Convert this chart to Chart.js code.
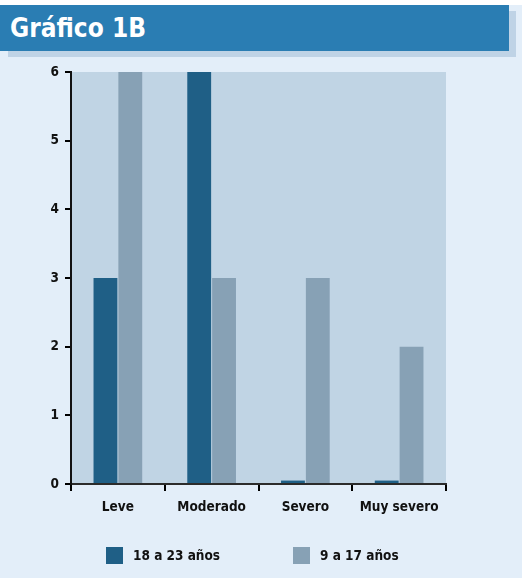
<!DOCTYPE html>
<html>
<head>
<meta charset="utf-8">
<script src="https://cdn.jsdelivr.net/npm/chart.js@4/dist/chart.umd.min.js"></script>
<style>
  html, body { margin: 0; padding: 0; }
  body {
    width: 522px; height: 578px; overflow: hidden; position: relative;
    background: #e3eef9;
    font-family: "DejaVu Sans Condensed", "DejaVu Sans", sans-serif;
  }
  .top-strip { position: absolute; left: 0; top: 0; width: 522px; height: 5px; background: #ffffff; }
  .title-shadow { position: absolute; left: 8px; top: 11px; width: 508px; height: 46px; background: #bfd3e6; }
  .title-bar {
    position: absolute; left: 0; top: 5px; width: 509px; height: 46px; background: #2a7db3;
    color: #ffffff; font-weight: bold; font-size: 26px; line-height: 46px; padding-left: 10px; box-sizing: border-box;
  }
  #chart { position: absolute; left: 0; top: 0; }
  .legend { position: absolute; top: 547px; left: 0; width: 522px; height: 20px; }
  .legend-item { position: absolute; top: 0; font-weight: bold; font-size: 13.5px; color: #111; line-height: 17px; white-space: nowrap; }
  .legend-item span.box { display: inline-block; width: 17px; height: 17px; vertical-align: top; margin-right: 10px; }
</style>
</head>
<body>
<div class="top-strip"></div>
<div class="title-shadow"></div>
<div class="title-bar">Gráfico 1B</div>
<canvas id="chart" width="522" height="578"></canvas>
<div class="legend" id="legend"></div>

<script>
// Categorías y valores por grupo de edad
const categories = ['Leve', 'Moderado', 'Severo', 'Muy severo'];
const seriesNames = ['18 a 23 años', '9 a 17 años'];
const values18a23 = [3, 6, 0.05, 0.05];
const values9a17 = [6, 3, 3, 2];
const yTicks = [0, 1, 2, 3, 4, 5, 6];

const colors = ['#1f5f86', '#87a1b5'];
const legendLeft = [106, 293];

// fondo del área de trazado
const plotBackground = {
    id: 'plotBackground',
    beforeDraw(chart) {
        const { ctx, chartArea } = chart;
        ctx.save();
        ctx.fillStyle = '#c0d4e4';
        ctx.fillRect(chartArea.left, chartArea.top, chartArea.right - chartArea.left, chartArea.bottom - chartArea.top);
        ctx.restore();
    }
};

const tickFont = { family: '"DejaVu Sans Condensed", "DejaVu Sans", sans-serif', size: 13.5, weight: 'bold' };

const chart = new Chart(document.getElementById('chart'), {
    type: 'bar',
    data: {
        labels: categories,
        datasets: [
            { label: seriesNames[0], data: values18a23, backgroundColor: colors[0], borderWidth: 0,
              categoryPercentage: 0.53, barPercentage: 0.96 },
            { label: seriesNames[1], data: values9a17, backgroundColor: colors[1], borderWidth: 0,
              categoryPercentage: 0.53, barPercentage: 0.96 }
        ]
    },
    plugins: [plotBackground],
    options: {
        responsive: false,
        animation: false,
        layout: { padding: { top: 72, right: 76, bottom: 0, left: 0 } },
        plugins: { legend: { display: false }, tooltip: { enabled: false } },
        scales: {
            x: {
                afterFit(scale) { scale.height = 94; },
                border: { display: true, color: '#2b2b2b', width: 2 },
                grid: { offset: true, drawOnChartArea: false, color: '#000', lineWidth: 2, tickLength: 7 },
                ticks: { color: '#111', font: tickFont, padding: 8 }
            },
            y: {
                min: 0, max: 6,
                afterFit(scale) { scale.width = 71; },
                afterBuildTicks(scale) { scale.ticks = yTicks.map(v => ({ value: v })); },
                border: { display: true, color: '#111', width: 2 },
                grid: { drawOnChartArea: false, color: '#000', lineWidth: 2, tickLength: 6 },
                ticks: { color: '#111', font: tickFont, padding: 6 }
            }
        }
    }
});

// leyenda
const legend = document.getElementById('legend');
chart.data.datasets.forEach((ds, i) => {
    const item = document.createElement('div');
    item.className = 'legend-item';
    item.style.left = legendLeft[i] + 'px';
    item.innerHTML = '<span class="box" style="background:' + ds.backgroundColor + '"></span>' + ds.label;
    legend.appendChild(item);
});
</script>
</body>
</html>
